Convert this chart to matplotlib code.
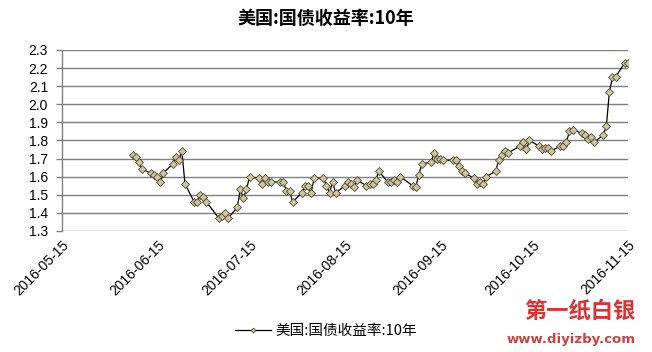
import matplotlib
matplotlib.use("Agg")
import matplotlib.pyplot as plt
import pandas as pd

plt.rcParams['font.family'] = ['Noto Sans CJK SC', 'DejaVu Sans']

title = "美国:国债收益率:10年"
series_name = "美国:国债收益率:10年"

dates = [
    "2016-06-07", "2016-06-08", "2016-06-09", "2016-06-10",
    "2016-06-13", "2016-06-14", "2016-06-15", "2016-06-16", "2016-06-17",
    "2016-06-20", "2016-06-21", "2016-06-22", "2016-06-23", "2016-06-24",
    "2016-06-27", "2016-06-28", "2016-06-29", "2016-06-30", "2016-07-01",
    "2016-07-05", "2016-07-06", "2016-07-07", "2016-07-08",
    "2016-07-11", "2016-07-12", "2016-07-13", "2016-07-14", "2016-07-15",
    "2016-07-18", "2016-07-19", "2016-07-20", "2016-07-21", "2016-07-22",
    "2016-07-25", "2016-07-26", "2016-07-27", "2016-07-28", "2016-07-29",
    "2016-08-01", "2016-08-02", "2016-08-03", "2016-08-04", "2016-08-05",
    "2016-08-08", "2016-08-09", "2016-08-10", "2016-08-11", "2016-08-12",
    "2016-08-15", "2016-08-16", "2016-08-17", "2016-08-18", "2016-08-19",
    "2016-08-22", "2016-08-23", "2016-08-24", "2016-08-25", "2016-08-26",
    "2016-08-29", "2016-08-30", "2016-08-31", "2016-09-01", "2016-09-02",
    "2016-09-06", "2016-09-07", "2016-09-08", "2016-09-09",
    "2016-09-12", "2016-09-13", "2016-09-14", "2016-09-15", "2016-09-16",
    "2016-09-19", "2016-09-20", "2016-09-21", "2016-09-22", "2016-09-23",
    "2016-09-26", "2016-09-27", "2016-09-28", "2016-09-29", "2016-09-30",
    "2016-10-03", "2016-10-04", "2016-10-05", "2016-10-06", "2016-10-07",
    "2016-10-11", "2016-10-12", "2016-10-13", "2016-10-14",
    "2016-10-17", "2016-10-18", "2016-10-19", "2016-10-20", "2016-10-21",
    "2016-10-24", "2016-10-25", "2016-10-26", "2016-10-27", "2016-10-28",
    "2016-10-31", "2016-11-01", "2016-11-02", "2016-11-03", "2016-11-04",
    "2016-11-07", "2016-11-08", "2016-11-09", "2016-11-10", "2016-11-11",
    "2016-11-14", "2016-11-15",
]
values = [
    1.72, 1.71, 1.68, 1.64,
    1.62, 1.61, 1.60, 1.57, 1.62,
    1.67, 1.71, 1.69, 1.74, 1.56,
    1.46, 1.46, 1.50, 1.49, 1.46,
    1.37, 1.38, 1.40, 1.37,
    1.43, 1.53, 1.48, 1.53, 1.60,
    1.59, 1.56, 1.59, 1.57, 1.57,
    1.57, 1.57, 1.52, 1.52, 1.46,
    1.51, 1.55, 1.55, 1.51, 1.59,
    1.59, 1.55, 1.51, 1.57, 1.51,
    1.55, 1.57, 1.56, 1.54, 1.58,
    1.55, 1.56, 1.56, 1.58, 1.63,
    1.57, 1.57, 1.58, 1.57, 1.60,
    1.55, 1.54, 1.61, 1.67,
    1.68, 1.73, 1.70, 1.70, 1.69,
    1.69, 1.69, 1.66, 1.63, 1.62,
    1.59, 1.56, 1.57, 1.56, 1.60,
    1.63, 1.69, 1.72, 1.74, 1.73,
    1.77, 1.79, 1.75, 1.80,
    1.77, 1.75, 1.76, 1.76, 1.74,
    1.77, 1.77, 1.79, 1.85, 1.86,
    1.84, 1.83, 1.81, 1.82, 1.79,
    1.83, 1.88, 2.07, 2.15, 2.15,
    2.23, 2.23,
]

y_ticks = [1.3, 1.4, 1.5, 1.6, 1.7, 1.8, 1.9, 2.0, 2.1, 2.2, 2.3]
x_ticks = ["2016-05-15", "2016-06-15", "2016-07-15", "2016-08-15",
           "2016-09-15", "2016-10-15", "2016-11-15"]

x = pd.to_datetime(dates)
xt = pd.to_datetime(x_ticks)

fig = plt.figure(figsize=(6.52, 3.52), dpi=100)
ax = fig.add_axes([0.095, 0.344, 0.868, 0.514])

grid_c = "#808080"
ax.plot(x, values, color="black", lw=0.9, marker="D", markersize=4,
        markerfacecolor="#cfc49a", markeredgecolor="#4a4a3a", markeredgewidth=0.6,
        label=series_name, zorder=3)

ax.set_ylim(1.3, 2.3)
ax.set_xlim(xt[0], xt[-1])
ax.set_yticks(y_ticks)
ax.set_yticklabels([f"{v:.1f}" for v in y_ticks], fontsize=10,
                   family=['Liberation Sans', 'DejaVu Sans'])
ax.set_xticks(xt)
ax.set_xticklabels(x_ticks, rotation=45, ha="right", rotation_mode="anchor",
                   fontsize=10, family=['Liberation Sans', 'DejaVu Sans'])
ax.tick_params(axis='x', length=0, pad=5)
ax.tick_params(axis='y', length=4, width=1, color=grid_c, pad=6)
ax.grid(axis='y', color=grid_c, lw=1)
ax.set_axisbelow(True)
for s in ["top", "right", "bottom"]:
    ax.spines[s].set_visible(False)
ax.spines["left"].set_color(grid_c)
ax.spines["left"].set_linewidth(1)

fig.text(0.5, 0.948, title, ha="center", va="center", fontsize=13, fontweight="bold")

fig.legend(loc="center", bbox_to_anchor=(0.5, 0.06), frameon=False, fontsize=10.5,
           handlelength=2.5, handletextpad=0.3, markerscale=0.6)

fig.text(0.975, 0.115, "第一纸白银", ha="right", va="center", fontsize=16,
         fontweight="bold", color="#e03030")
fig.text(0.975, 0.035, "www.diyizby.com", ha="right", va="center", fontsize=9.5,
         fontweight="bold", color="#d04040", family=['DejaVu Sans'])

fig.savefig("out.png", dpi=100)
